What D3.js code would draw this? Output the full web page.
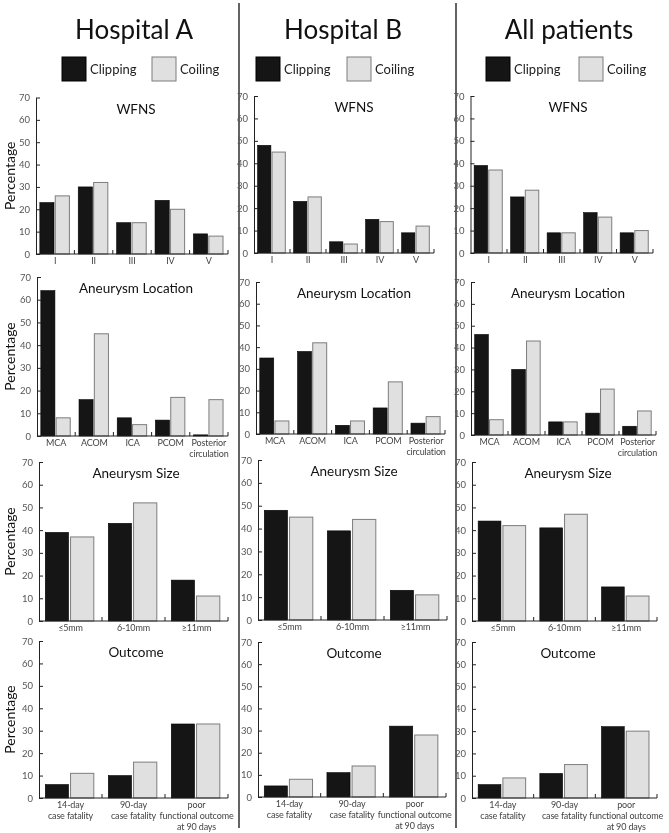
<!DOCTYPE html>
<html><head><meta charset="utf-8">
<script src="https://cdn.jsdelivr.net/npm/d3@7"></script>
<style>
html,body{margin:0;padding:0;background:#fff;}
svg{will-change:transform;}
svg text{font-family:Lato,"Open Sans",sans-serif;}
</style></head>
<body><svg id="c" width="669" height="833"></svg>
<script>
// ---------- data ----------
const columnTitles = ["Hospital A", "Hospital B", "All patients"];
const panelTitles = ["WFNS", "Aneurysm Location", "Aneurysm Size", "Outcome"];
const seriesNames = ["Clipping", "Coiling"];
const yTickValues = [0, 10, 20, 30, 40, 50, 60, 70];

const wfnsCats = [["I"], ["II"], ["III"], ["IV"], ["V"]];
const locationCats = [["MCA"], ["ACOM"], ["ICA"], ["PCOM"], ["Posterior", "circulation"]];
const sizeCats = [["\u22645mm"], ["6-10mm"], ["\u226511mm"]];
const outcomeCats = [["14-day", "case fatality"], ["90-day", "case fatality"], ["poor", "functional outcome", "at 90 days"]];

// Hospital A
const hospA_wfns_clip = [23, 30, 14, 24, 9];
const hospA_wfns_coil = [26, 32, 14, 20, 8];
const hospA_loc_clip = [64, 16, 8, 7, 0.5];
const hospA_loc_coil = [8, 45, 5, 17, 16];
const hospA_size_clip = [39, 43, 18];
const hospA_size_coil = [37, 52, 11];
const hospA_out_clip = [6, 10, 33];
const hospA_out_coil = [11, 16, 33];
// Hospital B
const hospB_wfns_clip = [48, 23, 5, 15, 9];
const hospB_wfns_coil = [45, 25, 4, 14, 12];
const hospB_loc_clip = [35, 38, 4, 12, 5];
const hospB_loc_coil = [6, 42, 6, 24, 8];
const hospB_size_clip = [48, 39, 13];
const hospB_size_coil = [45, 44, 11];
const hospB_out_clip = [5, 11, 32];
const hospB_out_coil = [8, 14, 28];
// All patients
const all_wfns_clip = [39, 25, 9, 18, 9];
const all_wfns_coil = [37, 28, 9, 16, 10];
const all_loc_clip = [46, 30, 6, 10, 4];
const all_loc_coil = [7, 43, 6, 21, 11];
const all_size_clip = [44, 41, 15];
const all_size_coil = [42, 47, 11];
const all_out_clip = [6, 11, 32];
const all_out_coil = [9, 15, 30];

// ---------- layout ----------
const svg = d3.select("#c");
const panelCats = [wfnsCats, locationCats, sizeCats, outcomeCats];
const values = [
  [[hospA_wfns_clip, hospA_wfns_coil], [hospB_wfns_clip, hospB_wfns_coil], [all_wfns_clip, all_wfns_coil]],
  [[hospA_loc_clip, hospA_loc_coil], [hospB_loc_clip, hospB_loc_coil], [all_loc_clip, all_loc_coil]],
  [[hospA_size_clip, hospA_size_coil], [hospB_size_clip, hospB_size_coil], [all_size_clip, all_size_coil]],
  [[hospA_out_clip, hospA_out_coil], [hospB_out_clip, hospB_out_coil], [all_out_clip, all_out_coil]]
];
// frames[row][col] = [x0, x1, yTop(70), yBottom(0)]
const frames = [
  [[36, 228, 97.5, 254], [254, 434, 96, 253], [470.5, 653, 96, 253]],
  [[37, 228, 277, 436], [256, 445, 282, 434], [471, 656, 282, 435]],
  [[39, 228, 462, 621], [258, 447, 460, 620], [472, 657, 462, 621]],
  [[39, 228, 641, 798], [258, 446, 642, 797], [472, 657, 642, 798]]
];
const titleCenters = [134, 343, 569];
const panelTitleX = [136, 354, 568];
const legendPos = [[62, 152], [256, 347], [486, 579]];
const fills = ["#151515", "#e0e0e0"];
const strokes = ["#000", "#7d7d7d"];

// separators
[239, 456].forEach(x => svg.append("line").attr("x1", x).attr("x2", x).attr("y1", 3).attr("y2", 828)
  .attr("stroke", "#222").attr("stroke-width", 1.4));

// column titles + legends
columnTitles.forEach((t, c) => {
  svg.append("text").attr("x", titleCenters[c]).attr("y", 39).attr("text-anchor", "middle")
    .attr("font-size", 26).attr("fill", "#111").text(t);
  seriesNames.forEach((s, k) => {
    const lx = legendPos[c][k];
    svg.append("rect").attr("x", lx).attr("y", 57).attr("width", 24).attr("height", 24)
      .attr("fill", fills[k]).attr("stroke", strokes[k]).attr("stroke-width", 1);
    svg.append("text").attr("x", lx + 28).attr("y", 74).attr("font-size", 13).attr("fill", "#222").text(s);
  });
});

panelCats.forEach((cats, r) => {
  for (let c = 0; c < 3; c++) {
    const [x0, x1, yt, yb] = frames[r][c];
    const y = d3.scaleLinear().domain([0, 70]).range([yb, yt]);
    const xg = d3.scaleBand().domain(d3.range(cats.length)).range([x0, x1]).paddingInner(0).paddingOuter(0);
    const g = xg.bandwidth();
    const xs = d3.scaleBand().domain([0, 1]).range([0.1 * g, 0.87 * g]).paddingInner(0.08).paddingOuter(0);
    const gp = svg.append("g");

    // bars
    seriesNames.forEach((s, k) => {
      gp.selectAll(null).data(values[r][c][k]).enter().append("rect")
        .attr("x", (d, i) => xg(i) + xs(k))
        .attr("y", d => y(d))
        .attr("width", xs.bandwidth())
        .attr("height", d => y(0) - y(d))
        .attr("fill", fills[k]).attr("stroke", strokes[k]).attr("stroke-width", k ? 1 : 0.6);
    });

    // y axis
    const ya = gp.append("g").attr("transform", `translate(${x0},0)`)
      .call(d3.axisLeft(y).tickValues(yTickValues).tickSize(-4).tickPadding(6).tickSizeOuter(0));
    ya.select(".domain").attr("stroke", "#222");
    ya.selectAll(".tick line").attr("stroke", "#222");
    ya.selectAll(".tick text").attr("font-size", 9.5).attr("fill", "#555").attr("font-family", "Lato,sans-serif");

    // x axis line + boundary ticks
    gp.append("line").attr("x1", x0).attr("x2", x1).attr("y1", y(0)).attr("y2", y(0))
      .attr("stroke", "#222").attr("stroke-width", 1);
    d3.range(1, cats.length + 1).forEach(i => {
      const bx = i < cats.length ? xg(i) : xg(i - 1) + g;
      gp.append("line").attr("x1", bx).attr("x2", bx).attr("y1", y(0)).attr("y2", y(0) - 4)
        .attr("stroke", "#222").attr("stroke-width", 1);
    });

    // category labels
    cats.forEach((lines, i) => {
      const t = gp.append("text").attr("x", xg(i) + g / 2).attr("y", y(0) + 10)
        .attr("text-anchor", "middle").attr("font-size", 9).attr("letter-spacing", -0.15).attr("fill", "#444");
      lines.forEach((ln, j) => t.append("tspan").attr("x", xg(i) + g / 2).attr("dy", j === 0 ? 0 : 11).text(ln));
    });

    // panel title
    gp.append("text").attr("x", panelTitleX[c]).attr("y", yt + 16).attr("text-anchor", "middle")
      .attr("font-size", 13.5).attr("fill", "#111").text(panelTitles[r]);

    // y label (first column only)
    if (c === 0) {
      const cy = (yt + yb) / 2;
      svg.append("text").attr("transform", `translate(15,${cy}) rotate(-90)`)
        .attr("text-anchor", "middle").attr("font-size", 14).attr("fill", "#111").text("Percentage");
    }
  }
});
</script></body></html>
